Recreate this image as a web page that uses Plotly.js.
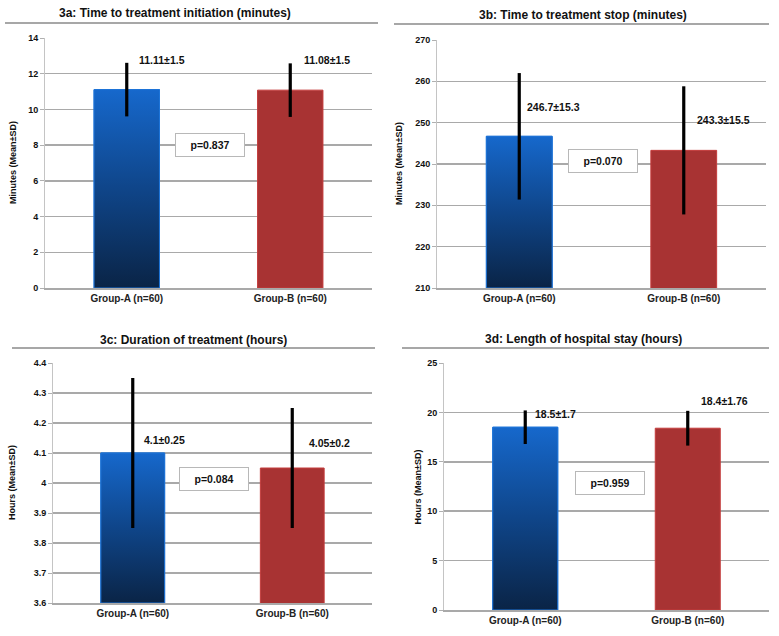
<!DOCTYPE html>
<html>
<head>
<meta charset="utf-8">
<script src="https://cdn.plot.ly/plotly-3.0.1.min.js"></script>
<style>html,body{margin:0;padding:0;background:#fff;}#chart{width:779px;height:636px;}</style>
</head>
<body>
<div id="chart"></div>
<script>
// ---------- data ----------
const categories = ["Group-A (n=60)", "Group-B (n=60)"];
const panelTitles = [
  "3a: Time to treatment initiation (minutes)",
  "3b: Time to treatment stop (minutes)",
  "3c: Duration of treatment (hours)",
  "3d: Length of hospital stay (hours)"
];
const yTitles = ["Minutes (Mean±SD)", "Minutes (Mean±SD)", "Hours (Mean±SD)", "Hours (Mean±SD)"];
const initiationMean = [11.11, 11.08];
const initiationSD   = [1.5, 1.5];
const stopMean       = [246.7, 243.3];
const stopSD         = [15.3, 15.5];
const durationMean   = [4.1, 4.05];
const durationSD     = [0.25, 0.2];
const stayMean       = [18.5, 18.4];
const staySD         = [1.7, 1.76];
const valueLabels = [
  ["11.11±1.5", "11.08±1.5"],
  ["246.7±15.3", "243.3±15.5"],
  ["4.1±0.25", "4.05±0.2"],
  ["18.5±1.7", "18.4±1.76"]
];
const pValues = ["p=0.837", "p=0.070", "p=0.084", "p=0.959"];
const meansList = [initiationMean, stopMean, durationMean, stayMean];
const sdList = [initiationSD, stopSD, durationSD, staySD];

// ---------- layout / style (positions) ----------
const W = 779, H = 636;
const px = v => v / W, py = v => 1 - v / H;
const panels = [
  {xd:[45,372], yd:[38,288], range:[0,14], dtick:2, labelY:[12.77,12.77], labelShift:[10,12],
   title:{x:175,y:13}, sep:{x0:5,x1:378,y:23}, pbox:{x:210,y:145}, ytitleX:13},
  {xd:[437,766], yd:[40,288], range:[210,270], dtick:10, labelY:[253.8,250.6], labelShift:[6,11],
   title:{x:583,y:15}, sep:{x0:394,x1:769,y:24}, pbox:{x:603,y:161}, ytitleX:399},
  {xd:[53,372], yd:[363,603], range:[3.6,4.4], dtick:0.1, labelY:[4.143,4.133], labelShift:[9,15],
   title:{x:193,y:340}, sep:{x0:12,x1:375,y:348}, pbox:{x:214,y:479}, ytitleX:12},
  {xd:[444,769], yd:[363,610], range:[0,25], dtick:5, labelY:[19.85,21.2], labelShift:[8,11],
   title:{x:583,y:339}, sep:{x0:402,x1:769,y:348}, pbox:{x:610,y:483}, ytitleX:417}
];
const FONT = "Liberation Sans, Arial, sans-serif";
const barWidth = 0.4;
const blueScale = [[0, "#0a2446"], [0.5, "#0f4589"], [1, "#1668cc"]];
const redColor = "#a83333";
const gridColor = "#a9a9a9";

const traces = [];
const layout = {
  width: W, height: H,
  margin: {l:0, r:0, t:0, b:0},
  paper_bgcolor: "#fff", plot_bgcolor: "rgba(0,0,0,0)",
  showlegend: false,
  font: {family: FONT, color: "#000"},
  annotations: [], shapes: []
};

panels.forEach((p, i) => {
  const n = i === 0 ? "" : String(i + 1);
  const xa = "x" + n, ya = "y" + n;
  const means = meansList[i], sds = sdList[i];
  const lo = p.range[0];

  // bars
  traces.push({
    type: "bar", x: [0, 1], y: means, width: barWidth,
    xaxis: xa, yaxis: ya,
    marker: {color: ["#12488f", redColor], line: {color: ["#1e74d8", "#c43c3c"], width: 1}},
    hoverinfo: "skip"
  });
  // gradient overlay for Group A bar (derived from the same mean)
  traces.push({
    type: "scatter", mode: "lines", xaxis: xa, yaxis: ya,
    x: [-barWidth/2, -barWidth/2, barWidth/2, barWidth/2, -barWidth/2],
    y: [lo, means[0], means[0], lo, lo],
    fill: "toself",
    fillgradient: {type: "vertical", colorscale: blueScale, start: lo, stop: means[0]},
    line: {color: "#1e74d8", width: 1},
    hoverinfo: "skip"
  });
  // error bars
  traces.push({
    type: "scatter", mode: "markers", x: [0, 1], y: means, xaxis: xa, yaxis: ya,
    marker: {size: 1, color: "rgba(0,0,0,0)"},
    error_y: {type: "data", array: sds, visible: true, color: "#000", thickness: 3.2, width: 0},
    hoverinfo: "skip"
  });

  layout["xaxis" + n] = {
    domain: [px(p.xd[0]), px(p.xd[1])], anchor: ya, range: [-0.5, 1.5],
    tickvals: [0, 1], ticktext: categories, showgrid: false, zeroline: false,
    showline: true, linecolor: gridColor, linewidth: 1.5, ticks: "",
    tickfont: {size: 10, family: FONT, color: "#222", weight: "bold"}, fixedrange: true
  };
  layout["yaxis" + n] = {
    domain: [py(p.yd[1]), py(p.yd[0])], anchor: xa, range: p.range, dtick: p.dtick,
    tick0: lo, showgrid: true, gridcolor: gridColor, gridwidth: 1.5, zeroline: false,
    showline: true, linecolor: "#c4c4c4", linewidth: 1, ticks: "outside", ticklen: 4,
    tickcolor: "#b0b0b0", tickfont: {size: 9, family: FONT, color: "#111", weight: "bold"},
    fixedrange: true
  };

  // panel title
  layout.annotations.push({
    xref: "paper", yref: "paper", x: px(p.title.x), y: py(p.title.y), showarrow: false,
    text: "<b>" + panelTitles[i] + "</b>", font: {size: 12, family: FONT, color: "#111"},
    xanchor: "center", yanchor: "middle"
  });
  // y-axis title
  layout.annotations.push({
    xref: "paper", yref: "paper", x: px(p.ytitleX), y: (py(p.yd[0]) + py(p.yd[1])) / 2,
    showarrow: false, textangle: -90, text: "<b>" + yTitles[i] + "</b>",
    font: {size: 9, family: FONT, color: "#111"}, xanchor: "center", yanchor: "middle"
  });
  // value labels
  [0, 1].forEach(j => {
    layout.annotations.push({
      xref: xa, yref: ya, x: j, y: p.labelY[j], xshift: p.labelShift[j], showarrow: false,
      text: "<b>" + valueLabels[i][j] + "</b>", font: {size: 10.5, family: FONT, color: "#111"},
      xanchor: "left", yanchor: "middle"
    });
  });
  // p-value box
  layout.annotations.push({
    xref: "paper", yref: "paper", x: px(p.pbox.x), y: py(p.pbox.y), showarrow: false,
    text: "<b>" + pValues[i] + "</b>", font: {size: 10.5, family: FONT, color: "#111"},
    bgcolor: "#fff", bordercolor: "#b8b8b8", borderwidth: 1, width: 66, height: 20,
    xanchor: "center", yanchor: "middle"
  });
  // separator under title
  layout.shapes.push({
    type: "line", xref: "paper", yref: "paper",
    x0: px(p.sep.x0), x1: px(p.sep.x1), y0: py(p.sep.y), y1: py(p.sep.y),
    line: {color: "#8a8a8a", width: 1.5}
  });
});

Plotly.newPlot("chart", traces, layout, {displayModeBar: false, staticPlot: true});
</script>
</body>
</html>
